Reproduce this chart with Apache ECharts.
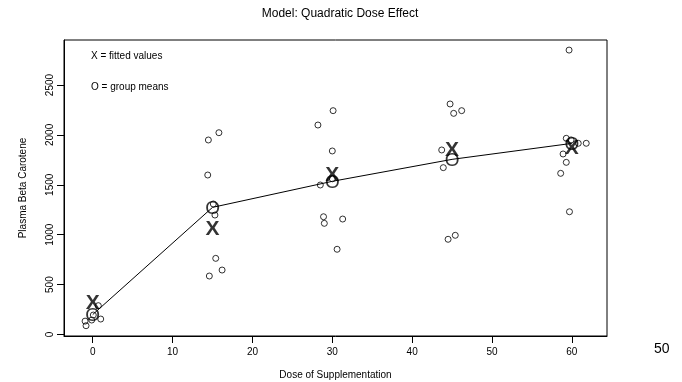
<!DOCTYPE html>
<html>
<head>
<meta charset="utf-8">
<script src="https://cdn.jsdelivr.net/npm/echarts@6/dist/echarts.min.js"></script>
<style>
html,body{margin:0;padding:0;background:#fff;}
#chart{width:682px;height:382px;}
</style>
</head>
<body>
<div id="chart"></div>
<script>
// ---- data ----
var doses = [0, 15, 30, 45, 60];
var groupMeans = [200, 1274, 1535, 1755, 1915];
var fittedValues = [320, 1064, 1610, 1856, 1880];
// jittered observations: [dose (jittered), plasma beta carotene]
var obsDose0  = [[-0.96,134],[-0.84,88],[-0.13,145],[0.07,195],[1.0,155],[0.7,289]];
var obsDose15 = [[14.48,1949],[15.8,2022],[14.4,1598],[15.1,1308],[15.3,1197],[15.4,763],[16.2,646],[14.6,586]];
var obsDose30 = [[30.1,2243],[28.2,2099],[30.0,1839],[30.0,1560],[28.5,1498],[28.9,1180],[29.0,1114],[31.3,1157],[30.6,854]];
var obsDose45 = [[44.75,2310],[45.2,2216],[46.2,2243],[43.7,1849],[43.9,1672],[44.5,954],[45.4,994]];
var obsDose60 = [[59.65,2850],[59.3,1966],[60.8,1916],[61.8,1916],[58.9,1809],[59.3,1725],[58.6,1615],[59.7,1230],[59.9,1950]];
var xTicks = [0, 10, 20, 30, 40, 50, 60];
var yTicks = [0, 500, 1000, 1500, 2000, 2500];

var titleText = 'Model: Quadratic Dose Effect';
var xName = 'Dose of Supplementation';
var yName = 'Plasma Beta Carotene';
var note1 = 'X = fitted values';
var note2 = 'O = group means';
var pageNo = '50';

var FONT = '"Liberation Sans", Arial, Helvetica, sans-serif';
var observations = [].concat(obsDose0, obsDose15, obsDose30, obsDose45, obsDose60);
var meanPts = doses.map(function(d, i){ return [d, groupMeans[i]]; });
var fitPts = doses.map(function(d, i){ return [d, fittedValues[i]]; });
function plain(v){ return String(v); }

var chart = echarts.init(document.getElementById('chart'), null, {renderer: 'canvas'});
chart.setOption({
  backgroundColor: '#fff',
  animation: false,
  title: {
    text: titleText, left: 335, top: 3, textAlign: 'center',
    textStyle: {fontFamily: FONT, fontSize: 12, fontWeight: 'normal', color: '#000'}
  },
  grid: {left: 64, right: 75, top: 40, bottom: 46, show: true, borderColor: '#000', borderWidth: 1,
         backgroundColor: 'transparent', containLabel: false, outerBoundsMode: 'none'},
  xAxis: {
    type: 'value', min: -3.6, max: 64.4,
    name: xName, nameLocation: 'middle', nameGap: 34,
    nameTextStyle: {fontFamily: FONT, fontSize: 10, color: '#000'},
    axisLine: {show: true, onZero: false, lineStyle: {color: '#000', width: 1}},
    axisTick: {show: true, length: 7, lineStyle: {color: '#000'}, customValues: xTicks},
    axisLabel: {fontFamily: FONT, fontSize: 10, color: '#000', margin: 11, customValues: xTicks, formatter: plain},
    splitLine: {show: false}
  },
  yAxis: {
    type: 'value', min: -15, max: 2951,
    name: yName, nameLocation: 'middle', nameGap: 36,
    nameTextStyle: {fontFamily: FONT, fontSize: 10, color: '#000'},
    axisLine: {show: true, onZero: false, lineStyle: {color: '#000', width: 1}},
    axisTick: {show: true, length: 7, lineStyle: {color: '#000'}, customValues: yTicks},
    axisLabel: {fontFamily: FONT, fontSize: 10, color: '#000', margin: 9, rotate: 90, customValues: yTicks, formatter: plain},
    splitLine: {show: false}
  },
  graphic: [
    {type: 'text', left: 91, top: 51, style: {text: note1, font: '10px ' + FONT, fill: '#000'}},
    {type: 'text', left: 91, top: 82, style: {text: note2, font: '10px ' + FONT, fill: '#000'}},
    {type: 'text', left: 654, top: 342, style: {text: pageNo, font: '14px ' + FONT, fill: '#000'}}
  ],
  series: [
    {
      type: 'line', data: meanPts, symbol: 'none',
      lineStyle: {color: '#000', width: 1}, z: 2
    },
    {
      type: 'scatter', data: observations, symbol: 'circle', symbolSize: 6,
      itemStyle: {color: 'rgba(0,0,0,0)', borderColor: '#000', borderWidth: 1}, z: 3
    },
    {
      type: 'scatter', data: meanPts, symbol: 'circle', symbolSize: 1,
      itemStyle: {color: 'rgba(0,0,0,0)'},
      label: {show: true, position: 'inside', formatter: 'O', fontFamily: FONT, fontSize: 19, color: '#000', offset: [0, 1]}, z: 4
    },
    {
      type: 'scatter', data: fitPts, symbol: 'circle', symbolSize: 1,
      itemStyle: {color: 'rgba(0,0,0,0)'},
      label: {show: true, position: 'inside', formatter: 'X', fontFamily: FONT, fontSize: 21, fontWeight: 'bold', color: '#000', offset: [0, 1]}, z: 5
    }
  ]
});
</script>
</body>
</html>
